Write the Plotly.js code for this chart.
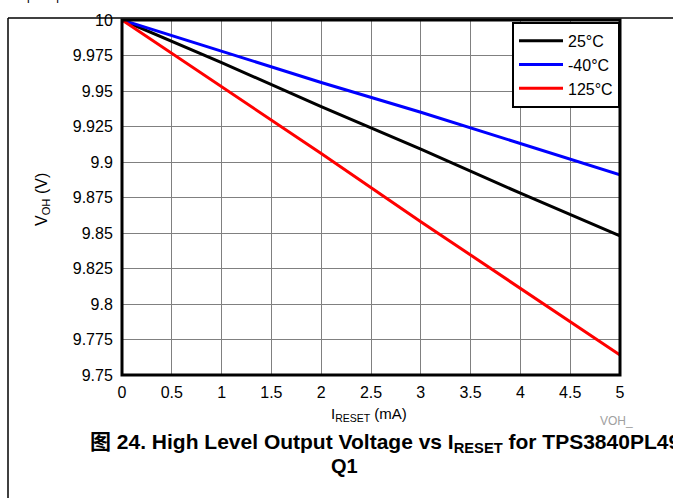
<!DOCTYPE html>
<html>
<head>
<meta charset="utf-8">
<script src="https://cdn.plot.ly/plotly-3.0.1.min.js"></script>
<style>html,body{margin:0;padding:0;background:#fff;}#chart{width:673px;height:498px;}</style>
</head>
<body>
<div id="chart"></div>
<script>
const current_mA = [0, 1, 2, 3, 4, 5];
const voh_25C = [10, 9.970, 9.939, 9.909, 9.878, 9.848];
const voh_m40C = [10, 9.978, 9.956, 9.935, 9.913, 9.891];
const voh_125C = [10, 9.953, 9.906, 9.858, 9.811, 9.764];
const seriesNames = ['25°C', '-40°C', '125°C'];
const xTicks = [0, 0.5, 1, 1.5, 2, 2.5, 3, 3.5, 4, 4.5, 5];
const yTicks = [9.75, 9.775, 9.8, 9.825, 9.85, 9.875, 9.9, 9.925, 9.95, 9.975, 10];

const FONT = 'Liberation Sans, Arial, Noto Sans CJK SC, sans-serif';
const L = 122, R = 620, T = 20, B = 375, W = 673, H = 498;
const px = x => (x - L) / (R - L);
const py = y => (B - y) / (B - T);

const traces = [
  {x: current_mA, y: voh_25C, name: seriesNames[0], mode: 'lines', line: {color: '#000000', width: 3}},
  {x: current_mA, y: voh_m40C, name: seriesNames[1], mode: 'lines', line: {color: '#0000ff', width: 3}},
  {x: current_mA, y: voh_125C, name: seriesNames[2], mode: 'lines', line: {color: '#ff0000', width: 3}}
];

const layout = {
  width: W, height: H,
  margin: {l: L, r: W - R, t: T, b: H - B},
  paper_bgcolor: '#ffffff', plot_bgcolor: '#ffffff',
  font: {family: FONT, size: 16, color: '#000'},
  showlegend: true,
  legend: {x: 1, xanchor: 'right', y: 0.995, yanchor: 'top', bgcolor: '#ffffff',
    bordercolor: '#000', borderwidth: 2, font: {size: 16, family: FONT, color: '#000'},
    tracegroupgap: 0, itemwidth: 44},
  xaxis: {range: [0, 5], tickvals: xTicks, ticktext: xTicks.map(String), showgrid: true,
    gridcolor: '#808080', gridwidth: 1, zeroline: false, showline: false,
    ticks: 'outside', ticklen: 3, tickcolor: '#ffffff',
    tickfont: {size: 16, family: FONT, color: '#000'}, fixedrange: true},
  yaxis: {range: [9.75, 10], tickvals: yTicks, ticktext: yTicks.map(String), showgrid: true,
    gridcolor: '#808080', gridwidth: 1, zeroline: false, showline: false,
    ticks: 'outside', ticklen: 5, tickcolor: '#ffffff',
    tickfont: {size: 16, family: FONT, color: '#000'}, fixedrange: true},
  shapes: [
    {type: 'rect', xref: 'paper', yref: 'paper', x0: 0, x1: 1, y0: 0, y1: 1, line: {color: '#000', width: 3}},
    {type: 'line', xref: 'paper', yref: 'paper', x0: px(8), x1: px(8), y0: py(18), y1: py(500), line: {color: '#000', width: 1.5}},
    {type: 'line', xref: 'paper', yref: 'paper', x0: px(8), x1: px(675), y0: py(18), y1: py(18), line: {color: '#000', width: 1.5}}
  ],
  annotations: [
    {xref: 'paper', yref: 'paper', x: px(42), y: py(200), text: 'V<sub>OH</sub> (V)', textangle: -90,
      showarrow: false, font: {size: 16, family: FONT, color: '#000'}, xanchor: 'center', yanchor: 'middle'},
    {xref: 'paper', yref: 'paper', x: px(369), y: py(414), text: 'I<sub>RESET</sub> (mA)',
      showarrow: false, font: {size: 15, family: FONT, color: '#000'}, xanchor: 'center', yanchor: 'middle'},
    {xref: 'paper', yref: 'paper', x: px(598), y: py(421), text: 'VOH_',
      showarrow: false, font: {size: 12, family: FONT, color: '#a0a0a0'}, xanchor: 'left', yanchor: 'middle'},
    {xref: 'paper', yref: 'paper', x: px(88), y: py(443), text: '<b>图 24. High Level Output Voltage vs I<sub>RESET</sub> for TPS3840PL49-</b>',
      showarrow: false, font: {size: 21, family: FONT, color: '#000'}, xanchor: 'left', yanchor: 'middle'},
    {xref: 'paper', yref: 'paper', x: px(344), y: py(466), text: '<b>Q1</b>',
      showarrow: false, font: {size: 20, family: FONT, color: '#000'}, xanchor: 'center', yanchor: 'middle'},
    {xref: 'paper', yref: 'paper', x: px(25), y: py(-4), text: 'pull-up',
      showarrow: false, font: {size: 12, family: FONT, color: '#000'}, xanchor: 'left', yanchor: 'middle'},
    {xref: 'paper', yref: 'paper', x: px(210), y: py(-4), text: 'Load',
      showarrow: false, font: {size: 12, family: FONT, color: '#000'}, xanchor: 'left', yanchor: 'middle'}
  ]
};

Plotly.newPlot('chart', traces, layout, {staticPlot: true, displayModeBar: false});
</script>
</body>
</html>
